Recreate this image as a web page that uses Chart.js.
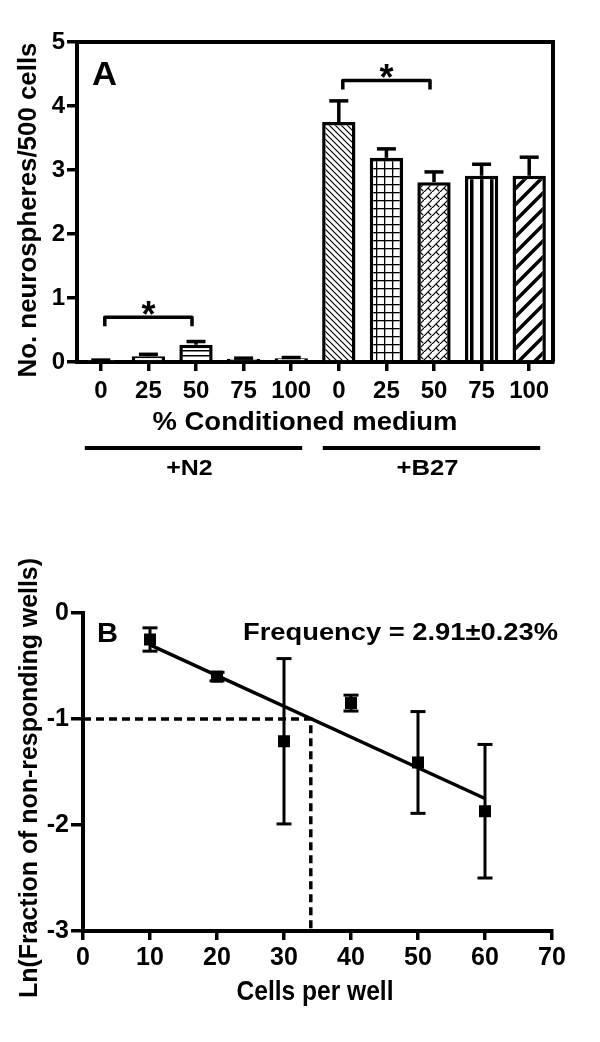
<!DOCTYPE html>
<html>
<head>
<meta charset="utf-8">
<script src="https://cdn.jsdelivr.net/npm/chart.js@4"></script>
<style>
  html, body { margin: 0; padding: 0; background: #fff; }
  #wrap { position: relative; width: 600px; height: 1042px; }
  canvas { position: absolute; left: 0; }
  #chart-a { top: 0; }
  #chart-b { top: 540px; }
</style>
</head>
<body>
<div id="wrap">
  <canvas id="chart-a" width="600" height="540"></canvas>
  <canvas id="chart-b" width="600" height="502"></canvas>
</div>
<script>
// panel A: neurospheres per 500 cells
const doseLabels = ["0", "25", "50", "75", "100", "0", "25", "50", "75", "100"];
const groupNames = ["+N2", "+B27"];
const spheresMean = [0.02, 0.09, 0.27, 0.05, 0.06, 3.75, 3.19, 2.81, 2.91, 2.91];
const spheresErr = [0.01, 0.03, 0.05, 0.01, 0.01, 0.33, 0.14, 0.16, 0.18, 0.29];
const barFills = ["none", "none", "hlines", "none", "none", "diagDown", "grid", "herring", "vbars", "diagUp"];
const sigPairs = [[0, 2], [5, 7]];
const sigLevel = [0.70, 4.40];

// panel B: limiting dilution
const cellsPerWell = [10, 20, 30, 40, 50, 60];
const lnFraction = [-0.25, -0.60, -1.21, -0.85, -1.41, -1.87];
const lnErr = [0.11, 0.04, 0.78, 0.075, 0.48, 0.63];
const fitX = [10, 60];
const fitY = [-0.30, -1.75];
const readX = [0, 34, 34];
const readY = [-1, -1, -3];

const FONT = '"Liberation Sans", Arial, Helvetica, sans-serif';
const INK = "#000";

document.addEventListener("DOMContentLoaded", () => mount());

function mount() {
  Chart.defaults.font.family = FONT;
  Chart.defaults.color = INK;
  createBarChart(document.getElementById("chart-a").getContext("2d"));
  createDilutionChart(document.getElementById("chart-b").getContext("2d"));
}

function makePattern(kind) {
  if (kind === "none") return "#fff";
  const c = document.createElement("canvas");
  const g = c.getContext("2d");
  const size = { hlines: [4, 5], diagDown: [6, 6], grid: [8, 8], herring: [8, 8], vbars: [10, 2], diagUp: [16, 16] }[kind];
  c.width = size[0];
  c.height = size[1];
  g.fillStyle = "#fff";
  g.fillRect(0, 0, c.width, c.height);
  g.fillStyle = INK;
  g.strokeStyle = INK;
  g.lineCap = "square";
  if (kind === "hlines") {
    g.fillRect(0, 0, 4, 1.5);
  } else if (kind === "diagDown") {
    g.lineWidth = 1.2;
    g.beginPath();
    g.moveTo(-1, -1); g.lineTo(7, 7);
    g.moveTo(-1, 5); g.lineTo(1, 7);
    g.moveTo(5, -1); g.lineTo(7, 1);
    g.stroke();
  } else if (kind === "grid") {
    g.fillRect(0, 0, 8, 1.3);
    g.fillRect(0, 0, 1.3, 8);
  } else if (kind === "herring") {
    g.lineWidth = 1.2;
    g.beginPath();
    g.moveTo(0, 8); g.lineTo(8, 0);
    g.moveTo(4, 4); g.lineTo(7, 7);
    g.stroke();
  } else if (kind === "vbars") {
    g.fillRect(0, 0, 3.5, 2);
  } else if (kind === "diagUp") {
    g.lineWidth = 3.5;
    g.lineCap = "butt";
    g.beginPath();
    g.moveTo(-2, 18); g.lineTo(18, -2);
    g.moveTo(-2, 2); g.lineTo(2, -2);
    g.moveTo(14, 18); g.lineTo(18, 14);
    g.stroke();
  }
  return g.createPattern(c, "repeat");
}

// bold text squeezed or stretched to a given width
function fitText(ctx, text, x, y, size, width, align, rotate) {
  ctx.save();
  ctx.font = `bold ${size}px ${FONT}`;
  const w = ctx.measureText(text).width;
  ctx.translate(x, y);
  if (rotate) ctx.rotate(-Math.PI / 2);
  ctx.scale(width / w, 1);
  ctx.textAlign = align;
  ctx.textBaseline = "alphabetic";
  ctx.fillStyle = INK;
  ctx.fillText(text, 0, 0);
  ctx.restore();
}

function line(ctx, x1, y1, x2, y2, width, dash) {
  ctx.save();
  ctx.strokeStyle = INK;
  ctx.lineWidth = width;
  ctx.lineCap = "butt";
  if (dash) ctx.setLineDash(dash);
  ctx.beginPath();
  ctx.moveTo(x1, y1);
  ctx.lineTo(x2, y2);
  ctx.stroke();
  ctx.restore();
}

function axisStyle(size, tickLength, padding, step) {
  return {
    grid: { drawOnChartArea: false, drawTicks: true, tickLength: tickLength, color: INK, lineWidth: 3.5, offset: false },
    border: { display: true, color: INK, width: 4 },
    ticks: { color: INK, font: { family: FONT, size: size, weight: "bold" }, padding: padding, maxRotation: 0, autoSkip: false, stepSize: step },
  };
}

function createBarChart(ctx) {
  const panelA = {
    id: "panelA",
    afterDatasetsDraw(chart) {
      const c = chart.ctx;
      const x = chart.scales.x;
      const y = chart.scales.y;
      const bars = chart.getDatasetMeta(0).data;
      // error bars, upper half only
      bars.forEach((bar, i) => {
        const top = y.getPixelForValue(spheresMean[i] + spheresErr[i]);
        line(c, bar.x, y.getPixelForValue(spheresMean[i]), bar.x, top, 3.5);
        line(c, bar.x - 9.5, top, bar.x + 9.5, top, 3.5);
      });
      // significance brackets
      sigPairs.forEach((pair, k) => {
        const x1 = x.getPixelForValue(pair[0]) + 4;
        const x2 = x.getPixelForValue(pair[1]) - 4;
        const yb = y.getPixelForValue(sigLevel[k]);
        c.save();
        c.strokeStyle = INK;
        c.lineWidth = 3.5;
        c.lineJoin = "round";
        c.beginPath();
        c.moveTo(x1, yb + 9);
        c.lineTo(x1, yb);
        c.lineTo(x2, yb);
        c.lineTo(x2, yb + 9);
        c.stroke();
        c.restore();
        c.save();
        c.font = `bold 36px ${FONT}`;
        c.textAlign = "center";
        c.fillStyle = INK;
        c.fillText("*", (x1 + x2) / 2, yb - 11 + 21);
        c.restore();
      });
    },
    afterDraw(chart) {
      const c = chart.ctx;
      const area = chart.chartArea;
      const x = chart.scales.x;
      // box on top and right
      line(c, area.left - 2, area.top, area.right + 2, area.top, 4);
      line(c, area.right, area.top, area.right, area.bottom, 4);
      fitText(c, "A", 92, 85, 34, 25, "left");
      fitText(c, "% Conditioned medium", 305, 430, 25, 305, "center");
      groupNames.forEach((name, g) => {
        const x1 = x.getPixelForValue(g * 5) - 16;
        const x2 = x.getPixelForValue(g * 5 + 4) + 11;
        line(c, x1, 448, x2, 448, 4);
        fitText(c, name, (x1 + x2) / 2 - 4, 475, 22, name.length * 15.5, "center");
      });
      fitText(c, "No. neurospheres/500 cells", 36, 210, 25, 335, "center", true);
    },
  };

  return new Chart(ctx, {
    type: "bar",
    data: {
      labels: doseLabels,
      datasets: [{
        data: spheresMean,
        backgroundColor: barFills.map(makePattern),
        borderColor: INK,
        borderWidth: 3.5,
        borderSkipped: "start",
        barPercentage: 0.7,
        categoryPercentage: 1,
      }],
    },
    options: {
      responsive: false,
      animation: false,
      events: [],
      layout: { padding: { top: 42, right: 47, left: 0, bottom: 0 } },
      plugins: { legend: { display: false }, tooltip: { enabled: false } },
      scales: {
        x: Object.assign(axisStyle(24, 9, 6), {
          afterFit: (s) => { s.height = 540 - 362; },
        }),
        y: Object.assign(axisStyle(24, 10, 2, 1), {
          min: 0,
          max: 5,
          afterFit: (s) => { s.width = 77; },
        }),
      },
    },
    plugins: [panelA],
  });
}

function createDilutionChart(ctx) {
  const panelB = {
    id: "panelB",
    afterDatasetsDraw(chart) {
      const c = chart.ctx;
      const x = chart.scales.x;
      const y = chart.scales.y;
      cellsPerWell.forEach((cells, i) => {
        const px = x.getPixelForValue(cells);
        const hi = y.getPixelForValue(lnFraction[i] + lnErr[i]);
        const lo = y.getPixelForValue(lnFraction[i] - lnErr[i]);
        line(c, px, hi, px, lo, 3);
        line(c, px - 7.5, hi, px + 7.5, hi, 3);
        line(c, px - 7.5, lo, px + 7.5, lo, 3);
      });
    },
    afterDraw(chart) {
      const c = chart.ctx;
      fitText(c, "B", 97, 102, 28, 21, "left");
      fitText(c, "Frequency = 2.91\u00b10.23%", 243, 100, 24, 315, "left");
      fitText(c, "Cells per well", 315, 460, 27, 157, "center");
      fitText(c, "Ln(Fraction of non-responding wells)", 37, 238, 25, 440, "center", true);
    },
  };

  return new Chart(ctx, {
    type: "scatter",
    data: {
      datasets: [
        {
          data: cellsPerWell.map((v, i) => ({ x: v, y: lnFraction[i] })),
          pointStyle: "rect",
          pointRadius: 8.5,
          pointBackgroundColor: INK,
          pointBorderWidth: 0,
          showLine: false,
        },
        {
          data: fitX.map((v, i) => ({ x: v, y: fitY[i] })),
          showLine: true,
          borderColor: INK,
          borderWidth: 3.5,
          pointRadius: 0,
        },
        {
          data: readX.map((v, i) => ({ x: v, y: readY[i] })),
          showLine: true,
          borderColor: INK,
          borderWidth: 3.5,
          borderDash: [8, 5],
          pointRadius: 0,
        },
      ],
    },
    options: {
      responsive: false,
      animation: false,
      events: [],
      layout: { padding: { top: 73, right: 48, left: 0, bottom: 0 } },
      plugins: { legend: { display: false }, tooltip: { enabled: false } },
      scales: {
        x: Object.assign(axisStyle(25, 9, 3, 10), {
          type: "linear",
          min: 0,
          max: 70,
          afterFit: (s) => { s.height = 502 - 391; },
        }),
        y: Object.assign(axisStyle(25, 12, 2, 1), {
          type: "linear",
          min: -3,
          max: 0,
          afterFit: (s) => { s.width = 83; },
        }),
      },
    },
    plugins: [panelB],
  });
}
</script>
</body>
</html>
